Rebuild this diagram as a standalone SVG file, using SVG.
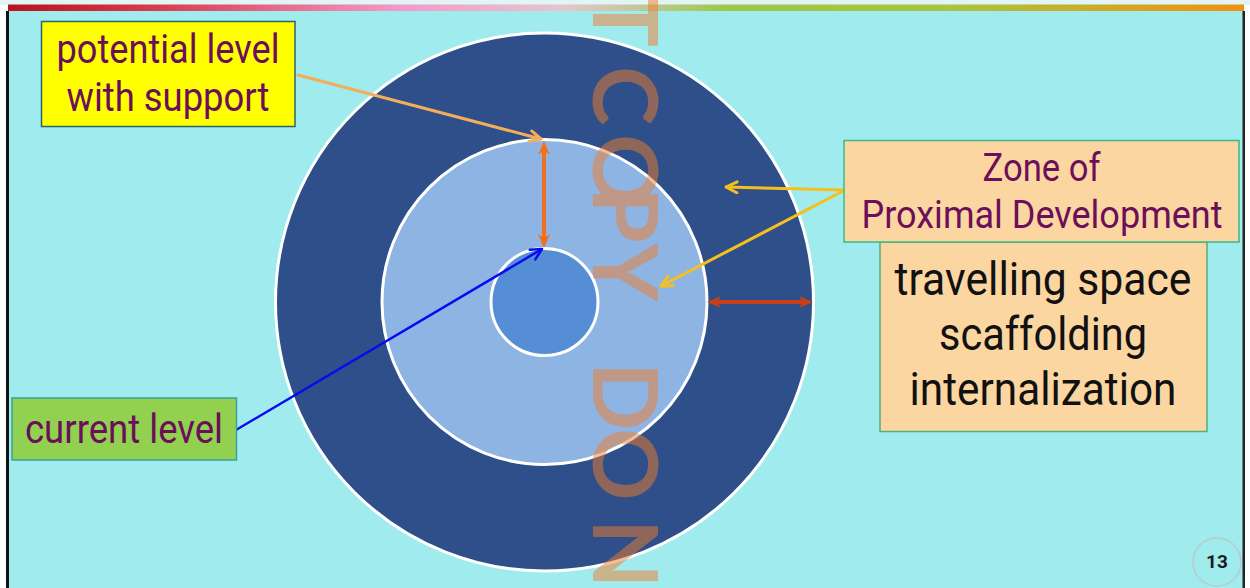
<svg xmlns="http://www.w3.org/2000/svg" width="1250" height="588" viewBox="0 0 1250 588">
  <defs>
    <linearGradient id="topbar" x1="0" y1="0" x2="1250" y2="0" gradientUnits="userSpaceOnUse">
      <stop offset="0" stop-color="#b5121b"/>
      <stop offset="0.12" stop-color="#d63a4c"/>
      <stop offset="0.32" stop-color="#f39ac8"/>
      <stop offset="0.45" stop-color="#e4c6cf"/>
      <stop offset="0.53" stop-color="#b8c888"/>
      <stop offset="0.58" stop-color="#9cc84a"/>
      <stop offset="0.76" stop-color="#a8c440"/>
      <stop offset="1" stop-color="#f39010"/>
    </linearGradient>
    <marker id="openLight" viewBox="0 0 14 14" refX="13" refY="7" markerWidth="14" markerHeight="14" orient="auto" markerUnits="userSpaceOnUse">
      <path d="M2,1.5 L13,7 L2,12.5" fill="none" stroke="#f4ad5a" stroke-width="3" stroke-linecap="round" stroke-linejoin="round"/>
    </marker>
    <marker id="openBlue" viewBox="0 0 14 14" refX="13" refY="7" markerWidth="14" markerHeight="14" orient="auto" markerUnits="userSpaceOnUse">
      <path d="M2,1.5 L13,7 L2,12.5" fill="none" stroke="#0a0af0" stroke-width="2.5" stroke-linecap="round" stroke-linejoin="round"/>
    </marker>
    <marker id="openGold" viewBox="0 0 14 14" refX="13" refY="7" markerWidth="14" markerHeight="14" orient="auto" markerUnits="userSpaceOnUse">
      <path d="M2,1.5 L13,7 L2,12.5" fill="none" stroke="#f5bf1e" stroke-width="3" stroke-linecap="round" stroke-linejoin="round"/>
    </marker>
    <marker id="headOrange" viewBox="0 0 14 12" refX="4" refY="6" markerWidth="14" markerHeight="12" orient="auto-start-reverse" markerUnits="userSpaceOnUse">
      <path d="M0,0 L14,6 L0,12 L4,6 z" fill="#f07020"/>
    </marker>
    <marker id="headRed" viewBox="0 0 14 12" refX="4" refY="6" markerWidth="14" markerHeight="12" orient="auto-start-reverse" markerUnits="userSpaceOnUse">
      <path d="M0,0 L14,6 L0,12 L4,6 z" fill="#c8401a"/>
    </marker>
  </defs>
  <style>
    .ring { stroke: #ffffff; stroke-width: 3; }
    .box { stroke-width: 1.5; }
    .lbl { font-family: Roboto, "Liberation Sans", sans-serif; text-anchor: middle; fill: #6b0f5a; }
    .big { font-family: Roboto, "Liberation Sans", sans-serif; text-anchor: middle; fill: #111111; font-size: 46px; }
    .wm { font-family: Lato, "Open Sans", sans-serif; font-size: 90px; font-weight: bold; fill: #f07d2d; }
    .conn { fill: none; stroke-linecap: round; }
  </style>

  <!-- page -->
  <rect x="0" y="0" width="1250" height="588" fill="#ffffff"/>
  <rect x="0" y="0" width="1250" height="5" fill="#e2f5f5"/>
  <rect x="8" y="10" width="1236" height="578" fill="#a0ebee"/>
  <rect x="8" y="4.5" width="1236" height="6.5" fill="url(#topbar)"/>
  <rect x="6" y="11" width="3" height="577" fill="#111111"/>
  <rect x="1242.5" y="11" width="2.5" height="577" fill="#222222"/>

  <!-- circles -->
  <g id="outer-circle">
    <circle class="ring" cx="544.5" cy="302" r="269" fill="#2e4f89"/>
  </g>
  <g id="middle-circle">
    <circle class="ring" cx="544.5" cy="302" r="162.5" fill="#8eb4e3"/>
  </g>
  <g id="inner-circle">
    <circle class="ring" cx="544.5" cy="302" r="53.5" fill="#558ed5"/>
  </g>

  <!-- watermark -->
  <g id="watermark" opacity="0.5">
    <text class="wm" transform="translate(593,0) rotate(90)"><tspan x="-7">T</tspan><tspan x="66">C</tspan><tspan x="134">O</tspan><tspan x="187">P</tspan><tspan x="243">Y</tspan><tspan x="362">D</tspan><tspan x="428">O</tspan><tspan x="519">N</tspan></text>
  </g>

  <!-- connectors -->
  <g id="connectors" class="conn">
    <line x1="298" y1="75" x2="541" y2="139" stroke="#f4ad5a" stroke-width="3" marker-end="url(#openLight)"/>
    <line x1="236" y1="430" x2="542" y2="249" stroke="#0a0af0" stroke-width="2.5" marker-end="url(#openBlue)"/>
    <line x1="843" y1="190" x2="726" y2="187" stroke="#f5bf1e" stroke-width="3" marker-end="url(#openGold)"/>
    <line x1="843" y1="191" x2="661" y2="286" stroke="#f5bf1e" stroke-width="3" marker-end="url(#openGold)"/>
    <line x1="544" y1="151" x2="544" y2="238" stroke="#f07020" stroke-width="4" stroke-linecap="butt" marker-start="url(#headOrange)" marker-end="url(#headOrange)"/>
    <line x1="717" y1="302" x2="803" y2="302" stroke="#c8401a" stroke-width="4" stroke-linecap="butt" marker-start="url(#headRed)" marker-end="url(#headRed)"/>
  </g>

  <!-- labels -->
  <g id="potential-level">
    <rect class="box" x="41.5" y="21.5" width="253.5" height="105" fill="#ffff00" stroke="#2f6464"/>
    <text class="lbl" x="168" y="63" font-size="40" textLength="223" lengthAdjust="spacingAndGlyphs">potential level</text>
    <text class="lbl" x="168" y="111" font-size="40" textLength="203" lengthAdjust="spacingAndGlyphs">with support</text>
  </g>

  <g id="current-level">
    <rect class="box" x="12" y="398" width="224.5" height="62" fill="#92d050" stroke="#3aa0a0"/>
    <text class="lbl" x="124" y="443" font-size="40" textLength="198" lengthAdjust="spacingAndGlyphs">current level</text>
  </g>

  <g id="travelling-space">
    <rect class="box" x="880" y="242" width="327" height="189.5" fill="#fcd6a0" stroke="#4fb07a"/>
    <text class="big" x="1043" y="295" textLength="297" lengthAdjust="spacingAndGlyphs">travelling space</text>
    <text class="big" x="1043" y="350" textLength="208" lengthAdjust="spacingAndGlyphs">scaffolding</text>
    <text class="big" x="1043" y="405" textLength="267" lengthAdjust="spacingAndGlyphs">internalization</text>
  </g>

  <g id="zpd">
    <rect class="box" x="844" y="140.5" width="395" height="101.5" fill="#fcd6a0" stroke="#3cb88a"/>
    <text class="lbl" x="1041.5" y="181" font-size="39" textLength="118" lengthAdjust="spacingAndGlyphs">Zone of</text>
    <text class="lbl" x="1042" y="228" font-size="39" textLength="361" lengthAdjust="spacingAndGlyphs">Proximal Development</text>
  </g>

  <g id="page-number">
    <circle cx="1217" cy="562" r="24" fill="none" stroke="#b9cbcb" stroke-width="1.5"/>
    <text x="1217" y="567.5" font-family="Roboto, 'Liberation Sans', sans-serif" font-weight="bold" font-size="19" text-anchor="middle" fill="#1a1a24">13</text>
  </g>
</svg>
